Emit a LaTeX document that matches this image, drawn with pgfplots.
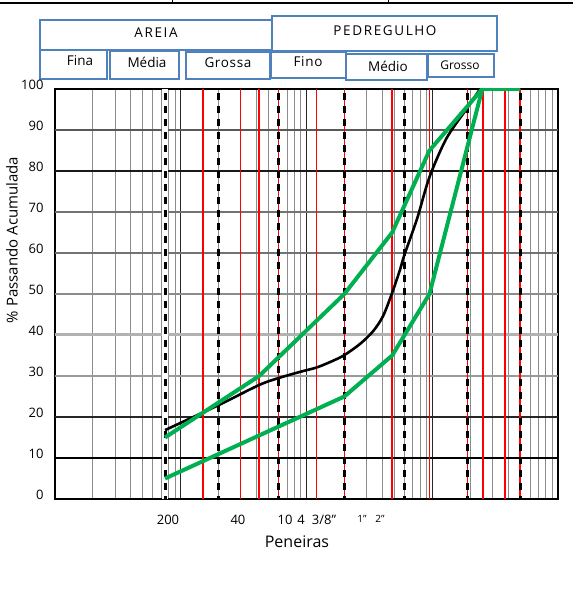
\documentclass[border=0pt]{standalone}
\usepackage{fontspec}
\setmainfont{Open Sans}
\usepackage{pgfplots}
\pgfplotsset{compat=1.18}
\definecolor{xlgreen}{RGB}{0,176,80}
\definecolor{boxblue}{RGB}{79,129,189}
\begin{document}
\begin{tikzpicture}
\path[use as bounding box] (0pt,0pt) rectangle (573pt,590pt);
\begin{scope}[x=1pt,y=1pt]
% remnant table line at the top
\draw[line width=2.5pt] (0,587) -- (573,587);
\draw[line width=1pt] (172,590) -- (172,586);
\draw[line width=1pt] (388,590) -- (388,586);
% header boxes
\begin{scope}[draw=boxblue, line width=1.4pt]
\draw (40,540) rectangle (272,570);
\draw (272,539) rectangle (497,574);
\draw (40,511) rectangle (107,540);
\draw (110,511) rectangle (179,539);
\draw (186,511) rectangle (270,538);
\draw (271,512) rectangle (346,538);
\draw (346,510) rectangle (427,536);
\draw (428,513) rectangle (494,536);
\end{scope}
\node[font=\fontsize{13.5}{14}\selectfont\addfontfeatures{LetterSpace=12}] at (156,557) {AREIA};
\node[font=\fontsize{13.5}{14}\selectfont\addfontfeatures{LetterSpace=12}] at (385,559) {PEDREGULHO};
\node[font=\fontsize{13.5}{14}\selectfont] at (80,529) {Fina};
\node[font=\fontsize{13.5}{14}\selectfont] at (147,528) {Média};
\node[font=\fontsize{13.5}{14}\selectfont\addfontfeatures{LetterSpace=5}] at (228,527) {Grossa};
\node[font=\fontsize{13.5}{14}\selectfont\addfontfeatures{LetterSpace=5}] at (308,528) {Fino};
\node[font=\fontsize{13.5}{14}\selectfont] at (388,524) {Médio};
\node[font=\fontsize{12}{13}\selectfont] at (460,525) {Grosso};
\end{scope}
\begin{axis}[
  at={(55pt,91pt)}, anchor=south west,
  width=503pt, height=410pt, scale only axis,
  xmode=log, xmin=0.01, xmax=100, ymin=0, ymax=100,
  xtick={0.01,0.1,1,10,100}, xticklabels={},
  xmajorgrids, xminorgrids,
  major grid style={black!85, line width=0.9pt},
  minor grid style={black!45, line width=0.8pt},
  extra x ticks={0.0792,0.285,0.675,0.904,1.377,2.76,3.84},
  extra x tick labels={200,40,10,4,3/8",{\fontsize{10}{11}\selectfont 1"},{\fontsize{10}{11}\selectfont 2"}},
  extra x tick style={grid=none, major tick length=0pt},
  xticklabel style={font=\fontsize{13}{14}\selectfont, yshift=-13pt},
  ytick={0,10,...,100},
  yticklabel style={font=\fontsize{13}{14}\selectfont, xshift=-8pt, yshift=4pt},
  major tick length=0pt, minor tick length=0pt,
  /pgf/number format/assume math mode=true,
  axis line style={black, line width=1.8pt},
  xlabel={Peneiras},
  xlabel style={at={(axis description cs:0.481,-0.105)}, anchor=center, font=\fontsize{16}{17}\selectfont},
  ylabel={\% Passando Acumulada},
  ylabel style={at={(axis description cs:-0.0855,0.632)}, anchor=center, font=\fontsize{15}{16}\selectfont},
  clip=true,
]
% horizontal grid lines (various weights as in the reference)
\addplot[black!65, line width=1.3pt] coordinates {(0.01,90)(100,90)};
\addplot[black!90, line width=1.6pt] coordinates {(0.01,80)(100,80)};
\addplot[black!55, line width=1.3pt] coordinates {(0.01,70)(100,70)};
\addplot[black!55, line width=1.3pt] coordinates {(0.01,60)(100,60)};
\addplot[black!45, line width=2.2pt] coordinates {(0.01,50)(100,50)};
\addplot[black!30, line width=3pt] coordinates {(0.01,40)(100,40)};
\addplot[black!40, line width=2.5pt] coordinates {(0.01,30)(100,30)};
\addplot[black!85, line width=2pt] coordinates {(0.01,20)(100,20)};
\addplot[black, line width=2.6pt] coordinates {(0.01,10)(100,10)};
% red sieve lines
\foreach \s in {0.15,0.3,0.42,0.6,1.2,2.0,4.8,9.5,19,25.4,38,50} {
  \addplot[red, line width=1.5pt] coordinates {(\s,0)(\s,100)};
}
% black dashed boundary lines
\addplot[white, line width=6pt] coordinates {(0.075,100)(0.075,0)};
\foreach \s in {0.075,0.2,0.6,2.0,6.0,19,50} {
  \addplot[black, line width=3pt, dash pattern=on 7pt off 6pt] coordinates {(\s,99)(\s,0)};
}
% sample curve
\addplot[black, line width=2.6pt, smooth, tension=0.5] coordinates {
(0.075,16.8)(0.2,22.9)(0.42,27.8)(0.6,29.5)(0.887,31)(1.21,32.1)(1.62,33.7)(2.0,35.1)
(2.66,37.8)(3.38,40.9)(4.06,44.6)(4.8,50.3)(5.54,55.9)(6.0,59.5)(7.6,68.5)(9.5,78.5)(13,88)(19,95.4)(24,100)};
% envelope limits
\addplot[xlgreen, line width=4pt] coordinates {
(0.075,15)(0.42,30)(2.0,50)(4.8,65)(9.5,85)(25,100)(50,100)};
\addplot[xlgreen, line width=4pt] coordinates {
(0.075,5)(2.0,25)(4.8,35)(9.5,50)(25,100)(50,100)};
\end{axis}
\end{tikzpicture}
\end{document}
